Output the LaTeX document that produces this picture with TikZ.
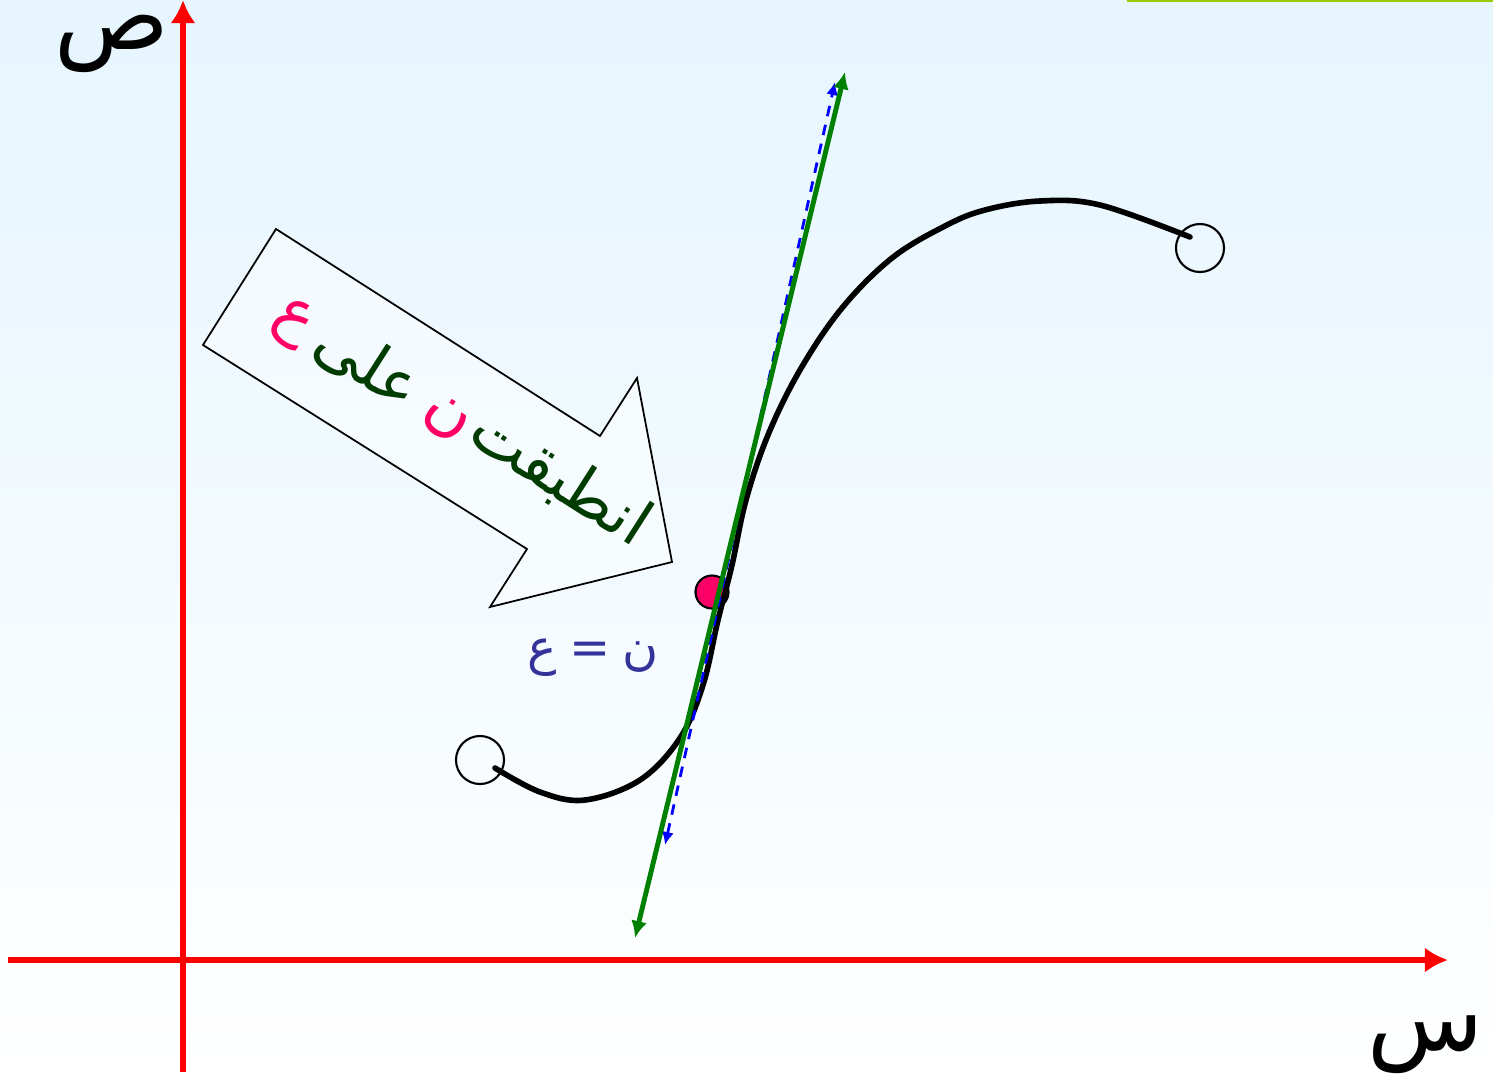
\documentclass[tikz,border=0pt]{standalone}
\usepackage{fontspec}
\usepackage{tikz}
\usetikzlibrary{arrows.meta}
\TeXXeTstate=1
\newfontfamily\arabicfont[Script=Arabic]{DejaVu Sans}
\definecolor{bgtop}{RGB}{230,245,254}
\definecolor{axisred}{RGB}{255,0,0}
\definecolor{tangreen}{RGB}{0,128,0}
\definecolor{txtgreen}{RGB}{0,60,0}
\definecolor{hotpink}{RGB}{255,0,102}
\definecolor{lblblue}{RGB}{51,51,153}
\definecolor{topline}{RGB}{153,204,0}

\begin{document}
\begin{tikzpicture}[x=0.01cm, y=-0.01cm,
    axis/.style={axisred, line width=1.45pt, -{Latex[length=2.3mm,width=2.5mm]}},
    endpt/.style={circle, draw, line width=0.6pt, minimum size=0.48cm, inner sep=0pt},
    tangent/.style={tangreen, line width=1.4pt, {Latex[length=1.7mm,width=1.6mm]}-{Latex[length=1.7mm,width=1.6mm]}},
    secant/.style={blue, line width=0.8pt, dash pattern=on 3pt off 2.5pt, {Latex[length=1.3mm,width=1.2mm]}-{Latex[length=1.3mm,width=1.2mm]}},
    axlabel/.style={inner sep=0pt, font=\fontsize{27}{27}\selectfont\arabicfont},
    word/.style={rotate=-32.6, inner sep=0pt, font=\fontsize{18}{18}\selectfont\arabicfont}]
  % background
  \shade[top color=bgtop, bottom color=white] (0,0) rectangle (1493,1081);
  \useasboundingbox (0,0) rectangle (1493,1081);
  \draw[topline, line width=0.6pt] (1127,1) -- (1493,1);

  % axes
  \coordinate (xl) at (8,960);
  \coordinate (xr) at (1448,960);
  \coordinate (yb) at (183,1072);
  \coordinate (yt) at (183,0);
  \draw[axis] (xl) -- (xr);
  \draw[axis] (yb) -- (yt);
  \node[axlabel] (ylab) at (112,44) {\beginR ص\endR};
  \node[axlabel] (xlab) at (1425,1045) {\beginR س\endR};

  % block arrow
  \draw[line width=0.5pt, fill=white, fill opacity=0.4] (276,229) -- (203,345) -- (527,549) -- (490,607) -- (672,562) -- (637,378) -- (600,436) -- cycle;
  \node[word, txtgreen] (w1) at (560,478) {\beginR انطبقت\endR};
  \node[word, hotpink] (w2) at (446,419) {\beginR ن\endR};
  \node[word, txtgreen] (w3) at (368,365) {\beginR على\endR};
  \node[word, hotpink] (w4) at (292,323) {\beginR ع\endR};

  % curve with open end points
  \node[endpt] (pa) at (480,760) {};
  \node[endpt] (pb) at (1200,248) {};
  \node[circle, draw, fill=hotpink, line width=0.6pt, minimum size=0.33cm, inner sep=0pt] (pt) at (712,592) {};
  \draw[line width=1.6pt, line cap=round] plot[smooth, tension=0.6] coordinates {(495,768) (540,792) (585,800) (640,780) (680,738) (703,685) (718,620) (732,565) (746,500) (768,435) (800,370) (842,308) (892,258) (945,226) (985,210) (1040,201) (1100,205) (1190,237)};

  % tangent and secant
  \coordinate (ta) at (635,938);
  \coordinate (tb) at (845,72);
  \coordinate (sa) at (665,845);
  \coordinate (sb) at (835,82);
  \draw[secant] (sa) -- (sb);
  \draw[tangent] (ta) -- (tb);
  \node[lblblue, font=\fontsize{14}{14}\selectfont\arabicfont] (eq) at (593,658) {\beginR ن\hspace{3.5pt}=\hspace{3.5pt}ع\endR};
\end{tikzpicture}
\end{document}
